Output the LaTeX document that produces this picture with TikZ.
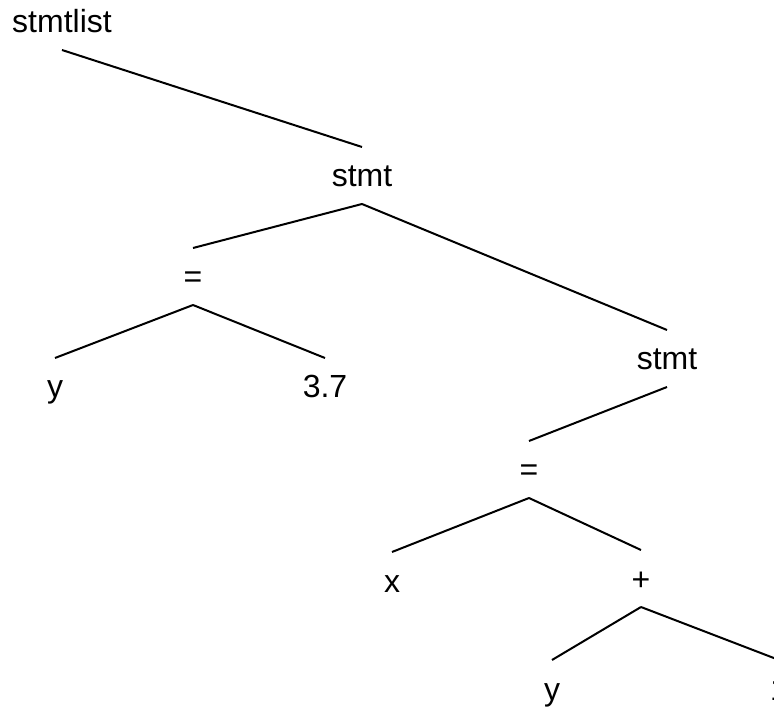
\documentclass[tikz,border=0pt]{standalone}
\usepackage{fontspec}
\setmainfont{Liberation Sans}
\begin{document}
\begin{tikzpicture}[x=1pt,y=-1pt,line width=2pt,
  lbl/.style={anchor=base,inner sep=0pt,font=\fontsize{32}{38}\selectfont}]
\useasboundingbox (0,0) rectangle (774,708);
\clip (0,0) rectangle (774,708);
\node[lbl] (list) at (62,33) {stmtlist};
\node[lbl] (stA) at (362,187) {stmt};
\node[lbl] (eqA) at (193,288) {=};
\node[lbl] (yA) at (55,398) {y};
\node[lbl] (num) at (325,398) {3.7};
\node[lbl] (stB) at (667,370) {stmt};
\node[lbl] (eqB) at (529,481) {=};
\node[lbl] (xB) at (392,592) {x};
\node[lbl] (plus) at (641,590) {+};
\node[lbl] (yB) at (552,700) {y};
\node[lbl] (one) at (779,700) {1};
\foreach \a/\b in {list/stA,stA/eqA,stA/stB,eqA/yA,eqA/num,stB/eqB,eqB/xB,eqB/plus,plus/yB,plus/one}
  \draw ([yshift=-17pt]\a.base) -- ([yshift=40pt]\b.base);
\end{tikzpicture}
\end{document}
